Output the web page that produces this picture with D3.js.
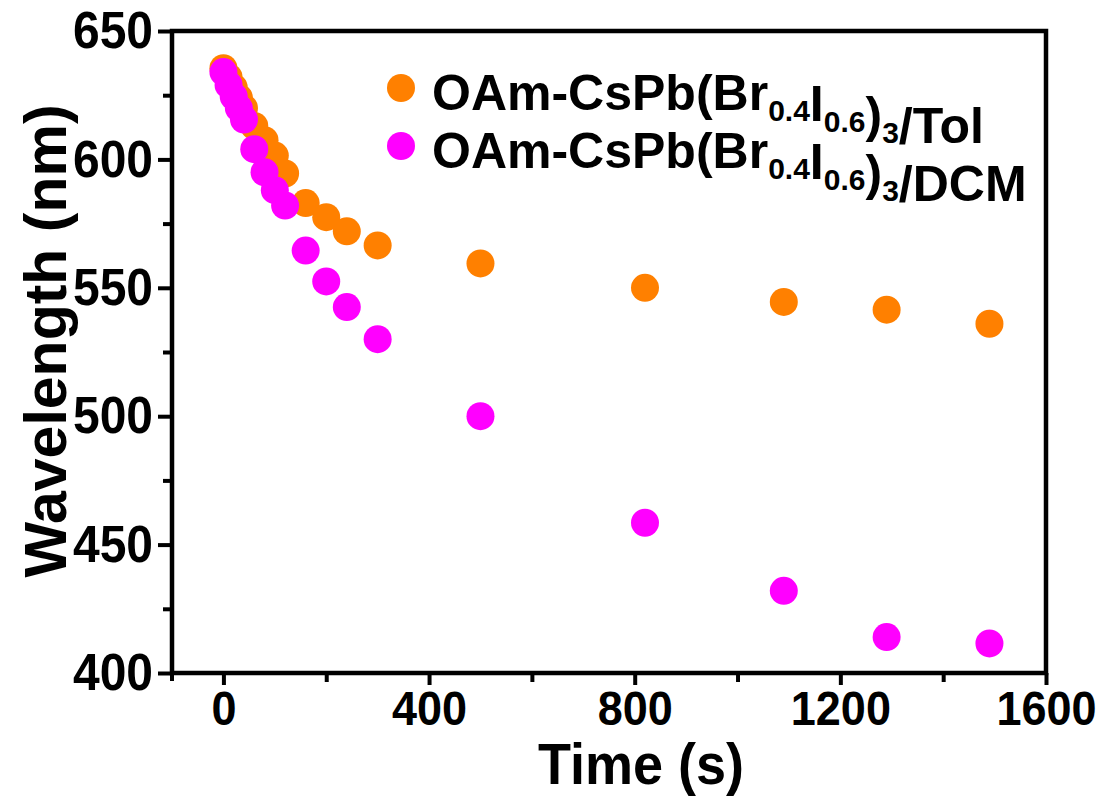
<!DOCTYPE html>
<html>
<head>
<meta charset="utf-8">
<script src="https://cdn.jsdelivr.net/npm/d3@7"></script>
<style>
  body { margin: 0; background: #fff; }
  text { font-family: "Liberation Sans", Arial, sans-serif; font-weight: bold; fill: #000; }
</style>
</head>
<body>
<script>
// data
var times = [0, 10, 20, 30, 40, 60, 80, 100, 120, 160, 200, 240, 300, 500, 820, 1090, 1290, 1490];
var tolValues = [635.5, 632, 628, 624, 620, 613, 607.5, 601.5, 594.5, 583, 577.5, 572, 566.5, 559.5, 550, 544.5, 541.5, 536];
var dcmValues = [634, 629, 624.5, 620, 615.5, 604, 595, 588, 582, 564.5, 552.5, 542.5, 530, 500, 458.5, 432, 414, 411.5];
var seriesLabels = [
    [["OAm-CsPb(Br", 0], ["0.4", 1], ["I", 0], ["0.6", 1], [")", 0], ["3", 1], ["/Tol", 0]],
    [["OAm-CsPb(Br", 0], ["0.4", 1], ["I", 0], ["0.6", 1], [")", 0], ["3", 1], ["/DCM", 0]]
];
var seriesColors = ["#ff8000", "#ff00ff"];
var xTicks = [0, 400, 800, 1200, 1600];
var xMinor = [200, 600, 1000, 1400];
var yTicks = [400, 450, 500, 550, 600, 650];
var yMinor = [425, 475, 525, 575, 625];

var width = 1107, height = 796;
var plotL = 172, plotR = 1046, plotT = 31, plotB = 673;

var svg = d3.select("body")
    .append("svg")
    .attr("width", width)
    .attr("height", height);

var x = d3.scaleLinear().domain([-100, 1600]).range([plotL, plotR]);
var y = d3.scaleLinear().domain([400, 650]).range([plotB, plotT]);

// minor ticks first, then major with labels
svg.append("g")
    .attr("transform", "translate(0," + plotB + ")")
    .call(d3.axisBottom(x).tickValues(xMinor).tickSize(9).tickSizeOuter(0).tickFormat(""));
svg.append("g")
    .attr("transform", "translate(" + plotL + ",0)")
    .call(d3.axisLeft(y).tickValues(yMinor).tickSize(9).tickSizeOuter(0).tickFormat(""));

var xAxis = svg.append("g")
    .attr("transform", "translate(0," + plotB + ")")
    .call(d3.axisBottom(x).tickValues(xTicks).tickSize(12).tickSizeOuter(0)
        .tickPadding(5).tickFormat(d3.format("d")));
xAxis.selectAll("text")
    .style("font-size", "45px")
    .attr("transform", "scale(1,1.06)");

var yAxis = svg.append("g")
    .attr("transform", "translate(" + plotL + ",0)")
    .call(d3.axisLeft(y).tickValues(yTicks).tickSize(14).tickSizeOuter(0)
        .tickPadding(5).tickFormat(d3.format("d")));
yAxis.selectAll("text")
    .style("font-size", "48px")
    .attr("transform", "scale(1,1.08)");

svg.selectAll(".domain").remove();
svg.selectAll(".tick line").attr("stroke", "#000").attr("stroke-width", 4);

// frame
svg.append("rect")
    .attr("x", plotL)
    .attr("y", plotT)
    .attr("width", plotR - plotL)
    .attr("height", plotB - plotT)
    .attr("fill", "none")
    .attr("stroke", "#000")
    .attr("stroke-width", 4.5);
svg.append("line")
    .attr("x1", plotL).attr("x2", plotL)
    .attr("y1", plotB).attr("y2", plotB + 8)
    .attr("stroke", "#000").attr("stroke-width", 4);

// points
var series = [tolValues, dcmValues];
series.forEach(function (vals, i) {
    svg.append("g")
        .selectAll("circle")
        .data(times.map(function (t, j) { return { t: t, v: vals[j] }; }))
        .enter()
        .append("circle")
        .attr("cx", function (d) { return x(d.t); })
        .attr("cy", function (d) { return y(d.v); })
        .attr("r", 14)
        .attr("fill", seriesColors[i]);
});

// axis titles
svg.append("text")
    .attr("x", 641)
    .attr("y", 0)
    .attr("text-anchor", "middle")
    .style("font-size", "54px")
    .attr("transform", "translate(0,784) scale(1,1.06)")
    .text("Time (s)");

svg.append("text")
    .attr("transform", "translate(66,341) rotate(-90)")
    .attr("text-anchor", "middle")
    .style("font-size", "59px")
    .text("Wavelength (nm)");

// legend
var legend = svg.append("g");
seriesLabels.forEach(function (parts, i) {
    var ly = 88 + i * 58;
    legend.append("circle")
        .attr("cx", 401)
        .attr("cy", ly)
        .attr("r", 14)
        .attr("fill", seriesColors[i]);
    var t = legend.append("text")
        .attr("x", 432)
        .attr("y", ly + 22)
        .style("font-size", "50px");
    parts.forEach(function (p) {
        t.append("tspan")
            .attr("dy", p[1] ? 11 : 0)
            .style("font-size", p[1] ? "30px" : "50px")
            .text(p[0]);
        if (p[1]) t.append("tspan").attr("dy", -11).text("");
    });
});
</script>
</body>
</html>
